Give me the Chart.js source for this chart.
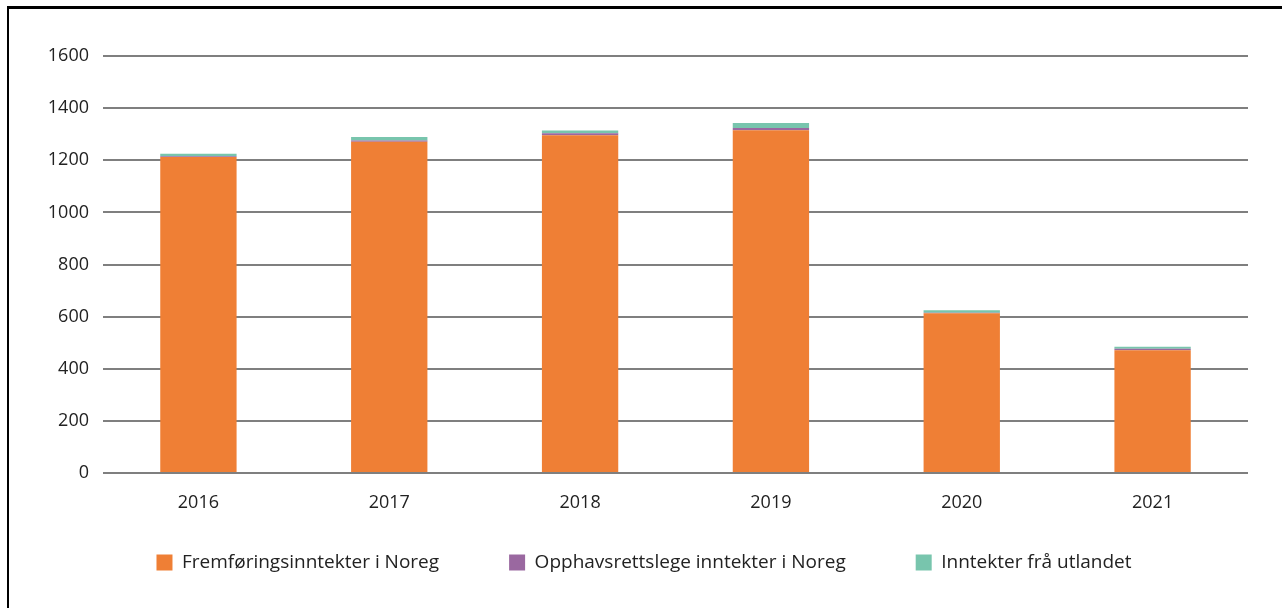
<!DOCTYPE html>
<html>
<head>
<meta charset="utf-8">
<script src="https://cdn.jsdelivr.net/npm/chart.js@4/dist/chart.umd.min.js"></script>
<style>
  html, body { margin: 0; padding: 0; background: #fff; }
  #wrap { position: relative; width: 1282px; height: 608px; }
  #frame {
    position: absolute; left: 7px; top: 6px; right: 0; bottom: 0;
    border-left: 2px solid #000; border-top: 3px solid #000;
    pointer-events: none;
  }
</style>
</head>
<body>
<div id="wrap">
  <canvas id="chart"></canvas>
  <div id="frame"></div>
</div>
<script>
const years = ['2016', '2017', '2018', '2019', '2020', '2021'];
const fremforing = [1212, 1271, 1296, 1315, 613, 471];
const opphavsrett = [3, 5, 8, 9, 2, 6];
const utland = [10, 13, 10, 19, 9, 7];
const yTicks = [0, 200, 400, 600, 800, 1000, 1200, 1400, 1600];

const font = 'Open Sans';

const data = {
  labels: years,
  datasets: [
    {
      label: 'Fremføringsinntekter i Noreg',
      data: fremforing,
      backgroundColor: '#ef7f35'
    },
    {
      label: 'Opphavsrettslege inntekter i Noreg',
      data: opphavsrett,
      backgroundColor: '#9a68a0'
    },
    {
      label: 'Inntekter frå utlandet',
      data: utland,
      backgroundColor: '#78c5ad'
    }
  ]
};

// legend padding is also the gap between items, so pull the legend up a bit
const legendShift = {
  id: 'legendShift',
  afterLayout(chart) {
    const lg = chart.legend;
    if (!lg) return;
    lg.top -= 26;
    lg.bottom -= 26;
  }
};

const options = {
  animation: false,
  responsive: true,
  maintainAspectRatio: false,
  layout: {
    padding: { left: 40, right: 34, top: 56, bottom: 0 }
  },
  datasets: {
    bar: { barPercentage: 0.4, categoryPercentage: 1 }
  },
  scales: {
    x: {
      stacked: true,
      grid: { display: false },
      border: { display: false },
      ticks: { color: '#222', font: { family: font, size: 18 }, padding: 11 },
      afterFit: (s) => { s.height = 36; }
    },
    y: {
      stacked: true,
      min: 0,
      max: 1600,
      afterBuildTicks: (s) => { s.ticks = yTicks.map(v => ({ value: v })); },
      grid: { color: '#7f7f7f', lineWidth: 2, drawTicks: false },
      border: { display: false },
      ticks: {
        color: '#222',
        font: { family: font, size: 18 },
        padding: 14,
        callback: (v) => String(v)
      },
      afterFit: (s) => { s.width = 63; }
    }
  },
  plugins: {
    legend: {
      position: 'bottom',
      labels: {
        boxWidth: 16,
        boxHeight: 16,
        padding: 70,
        color: '#222',
        font: { family: font, size: 19 }
      }
    },
    tooltip: { enabled: false }
  }
};

new Chart(document.getElementById('chart'), { type: 'bar', data, options, plugins: [legendShift] });
</script>
</body>
</html>
